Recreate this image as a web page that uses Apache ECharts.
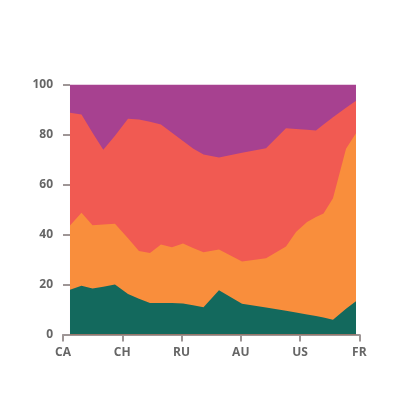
<!DOCTYPE html>
<html>
<head>
<meta charset="utf-8">
<script src="https://cdn.jsdelivr.net/npm/echarts@6/dist/echarts.min.js"></script>
<style>html,body{margin:0;padding:0;background:#fff}#c{width:400px;height:400px}</style>
</head>
<body>
<div id="c"></div>
<script>
var tickLabels = ['CA', 'CH', 'RU', 'AU', 'US', 'FR'];
var xs = [0.118, 0.312, 0.498, 0.680, 0.877, 1.097, 1.282, 1.468, 1.653, 1.839, 2.025, 2.194, 2.371, 2.632, 3.021, 3.426, 3.763, 3.932, 4.118, 4.269, 4.396, 4.556, 4.776, 4.944];
var teal   = [17.9, 19.5, 18.4, 19.1, 20.0, 16.2, 14.3, 12.6, 12.6, 12.6, 12.4, 11.7, 10.9, 17.7, 12.3, 10.8, 9.5, 8.8, 8.0, 7.4, 6.8, 5.9, 10.3, 13.3];
var orange = [25.7, 29.2, 25.3, 24.9, 24.3, 22.3, 19.1, 20.0, 23.4, 22.3, 24.0, 22.9, 22.0, 16.3, 16.9, 19.7, 25.7, 32.2, 37.0, 39.6, 41.6, 48.6, 64.0, 67.2];
var red    = [45.1, 39.3, 37.0, 29.9, 35.2, 47.8, 52.6, 52.5, 48.0, 45.8, 41.0, 39.8, 39.1, 36.8, 43.5, 44.0, 47.3, 41.2, 36.9, 34.6, 35.6, 32.4, 16.4, 13.0];
var purple = [11.3, 12.0, 19.3, 26.1, 20.5, 13.7, 14.0, 14.9, 16.0, 19.3, 22.6, 25.6, 28.0, 29.2, 27.3, 25.5, 17.5, 17.8, 18.1, 18.4, 16.0, 13.1, 9.3, 6.5];
var colors = ['#13695d', '#f98e3c', '#f15a52', '#a74190'];

// Build cumulative (stacked) tops from the layer arrays
var layers = [teal, orange, red, purple];
var cum = [];
var running = xs.map(function () { return 0; });
layers.forEach(function (arr) {
  running = running.map(function (r, i) { return r + arr[i]; });
  cum.push(running.slice());
});
function pairs(arr) { return arr.map(function (v, i) { return [xs[i], v]; }); }
function mk(idx) {
  return {
    type: 'line', data: pairs(cum[idx]), z: 2 + (3 - idx) * 0 ,
    showSymbol: false, symbol: 'none', silent: true,
    lineStyle: { width: 0 }, areaStyle: { color: colors[idx], opacity: 1, origin: 'start' },
    itemStyle: { color: colors[idx] }
  };
}
var axisGray = '#9e9696';
var labelStyle = { color: '#666', fontFamily: 'Open Sans', fontWeight: 'bold', fontSize: 12 };
var chart = echarts.init(document.getElementById('c'), null, { renderer: 'canvas' });
chart.setOption({
  animation: false,
  grid: { left: 63, right: 40.7, top: 84.5, bottom: 65.5, containLabel: false },
  xAxis: {
    type: 'value', min: 0, max: 5, interval: 1,
    axisLine: { show: true, lineStyle: { color: axisGray, width: 2 } },
    axisTick: { show: true, length: 7, lineStyle: { color: axisGray, width: 2 } },
    axisLabel: Object.assign({ margin: 12, formatter: function (v) { return tickLabels[Math.round(v)] || ''; } }, labelStyle),
    splitLine: { show: false }
  },
  yAxis: {
    type: 'value', min: 0, max: 100, interval: 20,
    axisLine: { show: false },
    axisTick: { show: true, inside: true, length: 7, lineStyle: { color: axisGray, width: 2 } },
    axisLabel: Object.assign({ margin: 10 }, labelStyle),
    splitLine: { show: false }
  },
  // draw tallest cumulative first so lower layers paint over it
  series: [mk(3), mk(2), mk(1), mk(0)]
});
</script>
</body>
</html>
